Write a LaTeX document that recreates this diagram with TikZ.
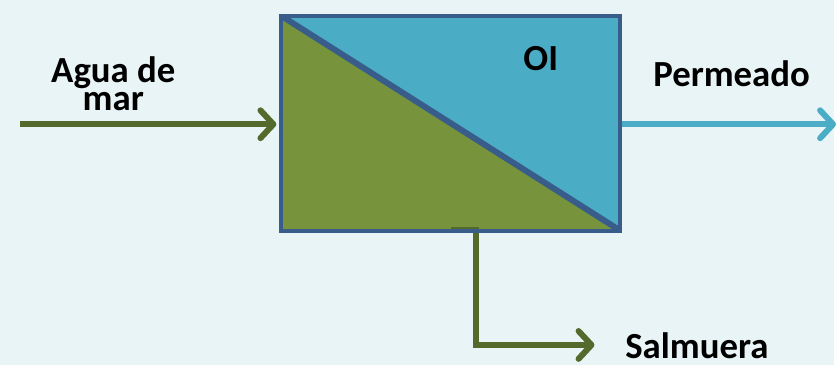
\documentclass[tikz,border=0pt]{standalone}
\usepackage{fontspec}
\setmainfont{Carlito}
\usetikzlibrary{arrows.meta, positioning, calc}
\definecolor{cWater}{RGB}{233,244,246}
\definecolor{cFeed}{RGB}{119,147,60}
\definecolor{cFeedLine}{RGB}{84,106,44}
\definecolor{cPerm}{RGB}{75,172,198}
\definecolor{cEdge}{RGB}{56,93,138}
\tikzset{
	lbl/.style    ={font=\bfseries\fontsize{37}{29}\selectfont, align=center, inner sep=0pt},
	flow/.style   ={line width=6pt, -{Straight Barb[length=13pt, width=28pt, round]}},
	unitbox/.style={rectangle, minimum width=341pt, minimum height=216pt, inner sep=0pt, outer sep=0pt},
}

\begin{document}
\begin{tikzpicture}[x=1pt, y=-1pt]
	\fill[cWater] (0,0) rectangle (839,367);
	% membrane unit
	\node[unitbox] (oi) at (453.5,124) {};
	\fill[cPerm] (oi.north west) -- (oi.north east) -- (oi.south east) -- cycle;
	\fill[cFeed] (oi.north west) -- (oi.south west) -- (oi.south east) -- cycle;
	\coordinate (feedIn) at (20,125);
	\coordinate (permOut) at (841,125);
	\coordinate (brineOut) at (598,347);
	\draw[flow, cFeedLine, shorten >=5pt] (feedIn) -- (feedIn -| oi.west);
	\draw[flow, cPerm] (oi.east |- permOut) -- (permOut);
	\draw[flow, cFeedLine] ([yshift=1pt]oi.south) -- ++(25,0) |- (brineOut);
	\begin{scope}
		\clip (oi.north west) rectangle (oi.south east);
		\draw[cEdge, line width=6pt] (oi.north west) -- (oi.south east);
	\end{scope}
	\draw[cEdge, line width=4pt] (oi.north west) rectangle (oi.south east);
	% labels
	\node[lbl, anchor=base] (oiLbl) at (544,71) {OI};
	\node[lbl, anchor=south] (feedLbl) at (114,112) {Agua de\\mar};
	\node[lbl, anchor=base] (permLbl) at (736,87) {Permeado};
	\node[lbl, anchor=base] (brineLbl) at (701,361) {Salmuera};
\end{tikzpicture}
\end{document}
